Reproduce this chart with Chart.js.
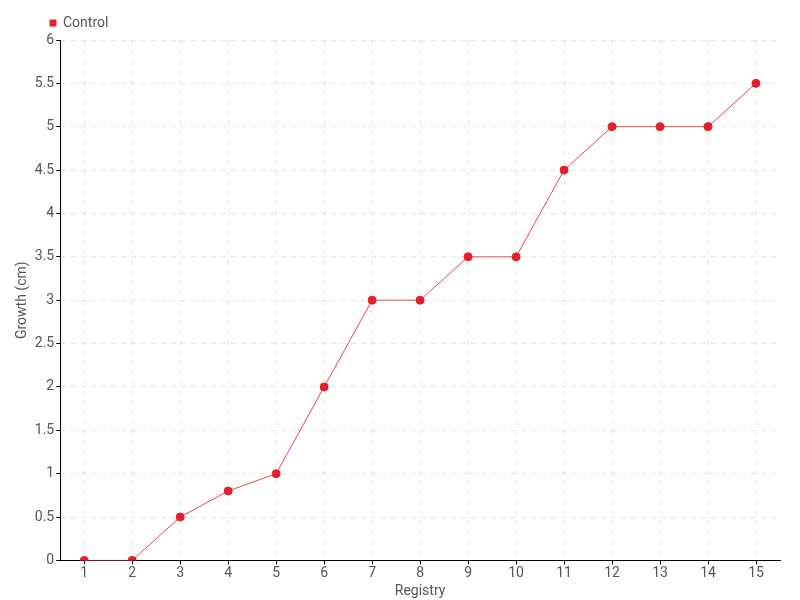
<!DOCTYPE html>
<html>
<head>
<meta charset="utf-8">
<script src="https://cdn.jsdelivr.net/npm/chart.js@4/dist/chart.umd.min.js"></script>
<style>
  html, body { margin: 0; padding: 0; background: #fff; }
  #wrap { width: 800px; height: 600px; }
</style>
</head>
<body>
<div id="wrap"><canvas id="chart" width="800" height="600"></canvas></div>
<script>
// Данные графика
const registry = ['1', '2', '3', '4', '5', '6', '7', '8', '9', '10', '11', '12', '13', '14', '15'];
const controlGrowth = [0, 0, 0.5, 0.8, 1, 2, 3, 3, 3.5, 3.5, 4.5, 5, 5, 5, 5.5];
const yMin = 0;
const yMax = 6;
const yStep = 0.5;

const FONT = 'Roboto, "DejaVu Sans", sans-serif';
const TEXT = '#555555';
const GRID = 'rgba(0,0,0,0.1)';

// Сдвиг легенды вправо, к оси Y
const legendShift = {
  id: 'legendShift',
  afterLayout(chart) {
    const lg = chart.legend;
    if (!lg) return;
    lg.left += 30;
    lg.right += 30;
    lg.adjustHitBoxes();
  }
};

const ctx = document.getElementById('chart');
new Chart(ctx, {
  type: 'line',
  data: {
    labels: registry,
    datasets: [{
      label: 'Control',
      data: controlGrowth,
      borderColor: '#f2414f',
      borderWidth: 1,
      backgroundColor: '#e61e2a',
      pointBackgroundColor: '#e61e2a',
      pointBorderColor: '#e61e2a',
      pointRadius: 4,
      pointHoverRadius: 4,
      tension: 0,
      fill: false
    }]
  },
  options: {
    responsive: false,
    animation: false,
    layout: { padding: { left: 12, right: 20, top: 8, bottom: 0 } },
    plugins: {
      legend: {
        align: 'start',
        labels: {
          usePointStyle: true,
          pointStyle: 'rect',
          boxWidth: 6,
          boxHeight: 6,
          color: TEXT,
          padding: 8,
          font: { family: FONT, size: 14 }
        }
      },
      tooltip: { enabled: false }
    },
    scales: {
      x: {
        offset: true,
        title: { display: true, text: 'Registry', color: TEXT, padding: 0, font: { family: FONT, size: 14 } },
        ticks: { color: TEXT, padding: 1, font: { family: FONT, size: 14 } },
        grid: {
          offset: false,
          color: GRID,
          tickLength: 4,
          tickColor: '#000'
        },
        border: { color: '#000', dash: [5, 5] }
      },
      y: {
        min: yMin,
        max: yMax,
        title: { display: true, text: 'Growth (cm)', color: TEXT, padding: 2, font: { family: FONT, size: 14 } },
        ticks: {
          stepSize: yStep,
          color: TEXT,
          padding: 2,
          font: { family: FONT, size: 14 },
          callback: (v) => String(v)
        },
        grid: {
          color: GRID,
          tickLength: 4,
          tickColor: '#000'
        },
        border: { color: '#000', dash: [5, 5] }
      }
    }
  },
  plugins: [legendShift]
});
</script>
</body>
</html>
